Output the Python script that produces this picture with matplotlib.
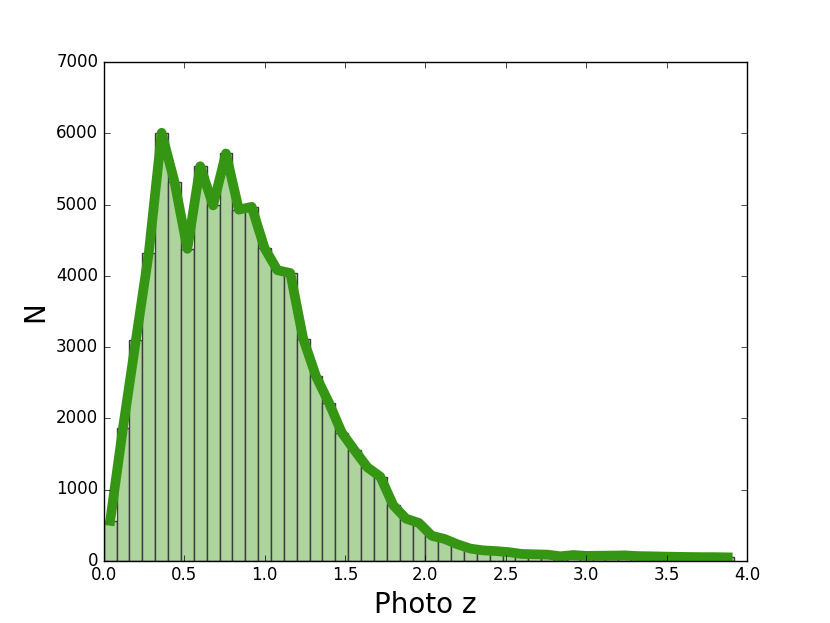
import numpy as np
import matplotlib
matplotlib.use("Agg")
import matplotlib.pyplot as plt

plt.style.use("classic")

# histogram of photometric redshifts, bin width 0.08 starting at 0
bin_edges = np.arange(0, 4.0, 0.08)
counts = [560, 1870, 3100, 4320, 6010, 5320, 4380, 5540, 4990, 5720,
          4930, 4970, 4390, 4080, 4040, 3120, 2590, 2220, 1800, 1550,
          1310, 1180, 780, 590, 530, 350, 305, 230, 170, 145,
          135, 120, 95, 90, 85, 62, 80, 68, 70, 72,
          75, 65, 62, 58, 55, 52, 50, 50, 47]

widths = np.diff(bin_edges)
centers = bin_edges[:-1] + widths / 2

fig = plt.figure(figsize=(8.3, 6.23), dpi=100)
ax = fig.add_subplot(111)

ax.bar(bin_edges[:-1], counts, widths, align='edge',
       facecolor='#acd49c', edgecolor='#3c3c3c', linewidth=1)
ax.plot(centers, counts, color='#349612', linewidth=7)

ax.set_xlim(0, 4)
ax.set_ylim(0, 7000)
ax.set_xlabel('Photo z', fontsize=20)
ax.set_ylabel('N', fontsize=20)

plt.savefig('out.png', dpi=100)
